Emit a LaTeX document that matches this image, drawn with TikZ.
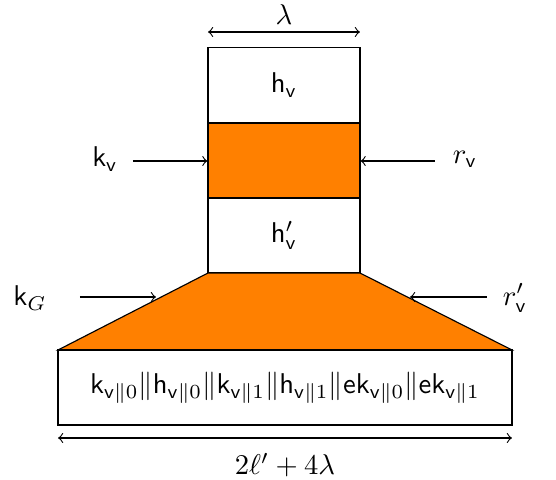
\documentclass[tikz,border=0pt]{standalone}
\usepackage{amsmath}
\begin{document}
\begin{tikzpicture}[x=0.35pt,y=-0.35pt,
  blk/.style={draw,line width=0.4pt,minimum width=152*0.35pt,minimum height=75*0.35pt,inner sep=0pt,anchor=center},
  arr/.style={->,line width=0.4pt},
  lbl/.style={inner sep=1pt}]
\useasboundingbox (0,0) rectangle (556,479);
\node[blk] (hv) at (284,85) {$\mathsf{h}_{\mathsf{v}}$};
\node[blk,fill=orange] (mid) at (284,160.5) {};
\node[blk] (hvp) at (284,235.5) {$\mathsf{h}'_{\mathsf{v}}$};
\coordinate (t1) at (208,273);
\coordinate (t2) at (360,273);
\coordinate (t3) at (512,350);
\coordinate (t4) at (58,350);
\draw[fill=orange,line width=0.4pt] (t1) -- (t2) -- (t3) -- (t4) -- cycle;
\node[blk,minimum width=454*0.35pt] (bot) at (285,387.5)
  {$\mathsf{k}_{\mathsf{v}\|0}\|\mathsf{h}_{\mathsf{v}\|0}\|\mathsf{k}_{\mathsf{v}\|1}\|\mathsf{h}_{\mathsf{v}\|1}\|\mathsf{ek}_{\mathsf{v}\|0}\|\mathsf{ek}_{\mathsf{v}\|1}$};
% dimensions
\coordinate (la) at (208,32);
\coordinate (lb) at (360,32);
\draw[<->,line width=0.4pt] (la) -- (lb);
\node[lbl] (lam) at (284,15) {$\lambda$};
\coordinate (ba) at (58,438);
\coordinate (bb) at (512,438);
\draw[<->,line width=0.4pt] (ba) -- (bb);
\node[lbl] (blen) at (285,465) {$2\ell' + 4\lambda$};
% side inputs
\node[lbl] (kv) at (105,159) {$\mathsf{k}_{\mathsf{v}}$};
\coordinate (kvs) at (133,161);
\draw[arr] (kvs) -- (mid.west |- kvs);
\node[lbl] (rv) at (465,159) {$r_{\mathsf{v}}$};
\coordinate (rvs) at (435,161);
\draw[arr] (rvs) -- (mid.east |- rvs);
\node[lbl] (kG) at (30,298) {$\mathsf{k}_{G}$};
\coordinate (kGs) at (80,297);
\coordinate (kGe) at (156,297);
\draw[arr] (kGs) -- (kGe);
\node[lbl] (rvp) at (515,298) {$r'_{\mathsf{v}}$};
\coordinate (rvps) at (487,297);
\coordinate (rvpe) at (410,297);
\draw[arr] (rvps) -- (rvpe);
\end{tikzpicture}
\end{document}
